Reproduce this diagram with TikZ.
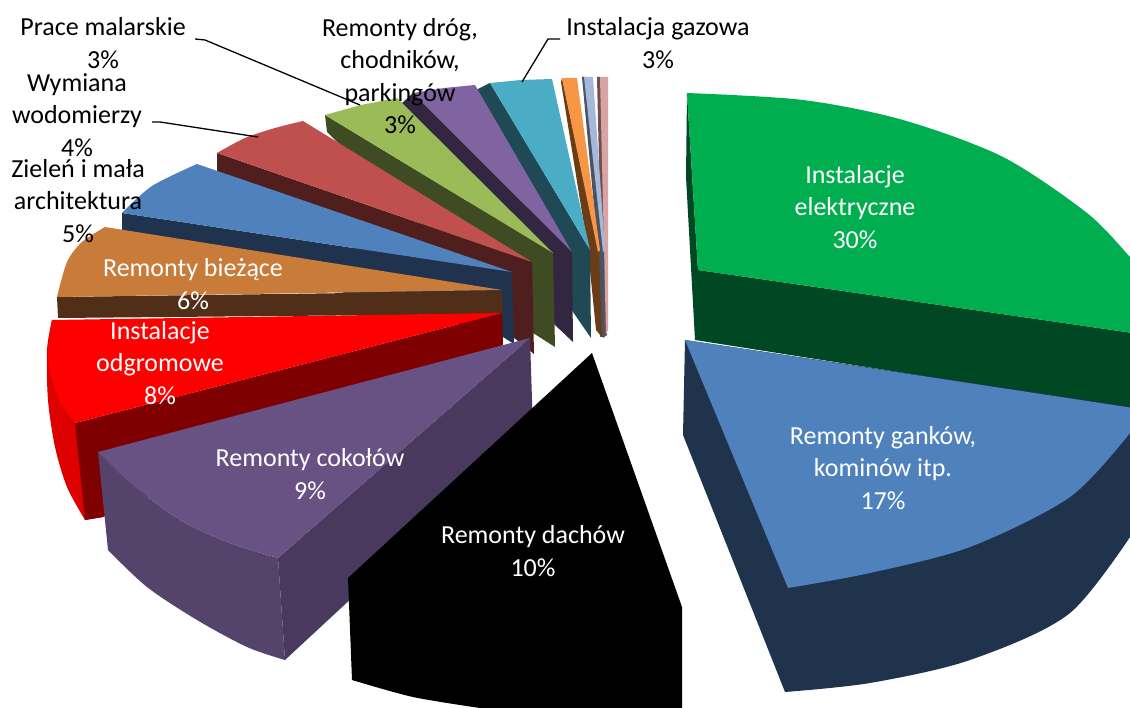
\documentclass[tikz,border=0pt]{standalone}
\usepackage{fontspec}
\setmainfont{Carlito}
\usepackage{tikz}

\definecolor{elecTop}{RGB}{0,173,79}
\definecolor{elecDark}{RGB}{0,72,35}
\definecolor{gankTop}{RGB}{79,129,189}
\definecolor{gankDark}{RGB}{32,51,77}
\definecolor{cokTop}{RGB}{103,82,131}
\definecolor{cokOuter}{RGB}{84,67,106}
\definecolor{cokRad}{RGB}{74,57,94}
\definecolor{odgTop}{RGB}{255,0,0}
\definecolor{odgOuter}{RGB}{222,0,0}
\definecolor{odgDark}{RGB}{127,0,0}
\definecolor{biezTop}{RGB}{201,123,58}
\definecolor{biezDark}{RGB}{80,46,23}
\definecolor{zielTop}{RGB}{79,129,189}
\definecolor{zielDark}{RGB}{31,51,78}
\definecolor{wodTop}{RGB}{192,80,77}
\definecolor{wodDark}{RGB}{80,30,29}
\definecolor{drogTop}{RGB}{155,187,89}
\definecolor{drogDark}{RGB}{63,76,35}
\definecolor{malTop}{RGB}{128,100,162}
\definecolor{malDark}{RGB}{50,38,64}
\definecolor{gazTop}{RGB}{75,172,198}
\definecolor{gazDark}{RGB}{31,73,84}
\definecolor{inneATop}{RGB}{247,150,70}
\definecolor{inneADark}{RGB}{107,61,22}
\definecolor{inneBTop}{RGB}{165,184,216}
\definecolor{inneBDark}{RGB}{74,83,100}
\definecolor{inneCTop}{RGB}{217,163,163}
\definecolor{inneCDark}{RGB}{110,80,80}

\begin{document}
\begin{tikzpicture}[x=1pt, y=-1pt,
	inlbl/.style={text=white, align=center, inner sep=0pt, font=\fontsize{26}{32.5}\selectfont},
	outlbl/.style={text=black, align=center, inner sep=0pt, font=\fontsize{26}{32.5}\selectfont},
	leader/.style={draw=black, line width=1.3pt}]
	\useasboundingbox (0,0) rectangle (1130,708);
	\clip (0,0) rectangle (1130,708);

	\fill[inneCDark] (597,77) -- (601,77) -- (607,335) -- (603,338) -- cycle;
	\fill[inneCTop] (600,77) -- (608,77) -- (608,330) -- (606,334) -- cycle;
	\fill[inneBDark] (582,77) -- (586,77) -- (604,250) -- (604,337) -- (600,337) -- (598,250) -- cycle;
	\fill[inneBTop] (584,77) -- (593,77) -- (605,250) -- (603,252) -- cycle;
	\fill[inneADark] (562,78) -- (599,252) -- (602,337) -- (596,330) -- (588,250) -- (561,82) -- cycle;
	\fill[inneATop] (562,78) -- (577,78) -- (600,250) -- (598,252) -- cycle;

	\fill[gazDark] (490,83) -- (590,250) -- (591,338) -- (573,312) -- (476,90) -- cycle;
	\fill[gazTop] (490,83) -- (521,80) -- (552,79) -- (590,250) -- cycle;

	\fill[malDark] (413,93) -- (572,252) -- (573,342) -- (555,325) -- (400,105) -- cycle;
	\fill[malTop] (413,93) -- (444,88) -- (475,85) -- (572,252) -- cycle;

	\fill[drogDark] (325,115) -- (553,253) -- (555,347) -- (533,333) -- (327,132) -- cycle;
	\fill[drogTop] (325,115) -- (361,105) -- (397,98) -- (553,253) -- cycle;

	\fill[wodDark] (217,153) -- (532,262) -- (534,354) -- (513,337) -- (217,172) -- cycle;
	\fill[wodTop] (303,121) -- (532,262) -- (217,153) -- plot[smooth] coordinates {(217,153) (245,138) (275,128) (303,121)} -- cycle;

	\fill[zielDark] (122,213) -- (512,272) -- (514,344) -- (503,337) -- (122,231) -- cycle;
	\fill[zielTop] (197,164) -- (512,272) -- (122,213) -- plot[smooth] coordinates {(122,213) (152,186) (197,164)} -- cycle;

	\fill[biezDark] (57,297) -- (502,291) -- (503,314) -- (58,318) -- cycle;
	\fill[biezTop] (105,227) -- (502,290) -- (57,297) -- plot[smooth] coordinates {(57,297) (67,262) (82,242) (105,227)} -- cycle;

	\fill[odgOuter] plot[smooth] coordinates {(52,320) (47,350) (48,400) (55,447) (67,487) (85,520)} -- (103,517) -- (75,423) -- cycle;
	\fill[odgDark] (75,423) -- (502,313) -- (503,345) -- (103,517) -- (85,520) -- cycle;
	\fill[odgTop] (52,320) -- (502,313) -- (75,423) -- plot[smooth] coordinates {(75,423) (62,405) (52,380) (48,353) (52,320)} -- cycle;

	\fill[cokOuter] plot[smooth] coordinates {(98,452) (130,483) (180,520) (230,543) (278,558)} -- (285,660) -- plot[smooth] coordinates {(285,660) (247,647) (197,620) (147,587) (108,550)} -- cycle;
	\fill[cokRad] (278,558) -- (530,338) -- (533,430) -- (285,660) -- cycle;
	\fill[cokTop] (98,452) -- (530,338) -- (278,558) -- plot[smooth] coordinates {(278,558) (230,543) (180,520) (130,483) (98,452)} -- cycle;

	\fill[black] (592,353) -- (682,607) -- (682,715) -- (560,715) -- plot[smooth] coordinates {(480,708) (413,697) (352,680)} -- (348,578) -- cycle;

	\fill[elecDark] (687,93) -- (686,177) -- (695,340) -- (1140,410) -- (1140,334) -- (698,270) -- cycle;
	\fill[elecTop] plot[smooth] coordinates {(687,93) (803,100) (903,120) (1003,157) (1087,213) (1130,257) (1140,268)} -- (1140,334) -- (698,270) -- cycle;

	\fill[gankDark] (685,340) -- (683,435) -- plot[smooth] coordinates {(785,692) (870,683) (970,660) (1070,613) (1140,522)} -- (1140,408) -- cycle;
	\fill[gankTop] (685,340) -- (1140,409) -- (1140,422) -- plot[smooth] coordinates {(1130,433) (1070,497) (970,547) (870,573) (788,588)} -- cycle;

	\node[inlbl](elek) at (855,207){Instalacje\\elektryczne\\30\%};
	\node[inlbl](ganki) at (883,468){Remonty ganków,\\kominów itp.\\17\%};
	\node[inlbl](dachy) at (533,551){Remonty dachów\\10\%};
	\node[inlbl](cokoly) at (310,474){Remonty cokołów\\9\%};
	\node[inlbl](odgrom) at (160,363){Instalacje\\odgromowe\\8\%};
	\node[inlbl](biez) at (193,284){Remonty bieżące\\6\%};

	\node[outlbl](prace) at (103,43){Prace malarskie\\3\%};
	\node[outlbl](wodom) at (77,115){Wymiana\\wodomierzy\\4\%};
	\node[outlbl](zielen) at (78,201){Zieleń i mała\\architektura\\5\%};
	\node[outlbl](drogi) at (400,76){Remonty dróg,\\chodników,\\parkingów\\3\%};
	\node[outlbl](gaz) at (658,43){Instalacja gazowa\\3\%};

	\coordinate(praceA) at (195,39);
	\coordinate(praceB) at (205,40);
	\coordinate(praceEnd) at (360,105);
	\draw[leader](praceA) -- (praceB) -- (praceEnd);
	\coordinate(wodomA) at (152,122);
	\coordinate(wodomB) at (160,122);
	\coordinate(wodomEnd) at (258,137);
	\draw[leader](wodomA) -- (wodomB) -- (wodomEnd);
	\coordinate(gazA) at (560,39);
	\coordinate(gazB) at (548,39);
	\coordinate(gazEnd) at (522,82);
	\draw[leader](gazA) -- (gazB) -- (gazEnd);

\end{tikzpicture}
\end{document}
